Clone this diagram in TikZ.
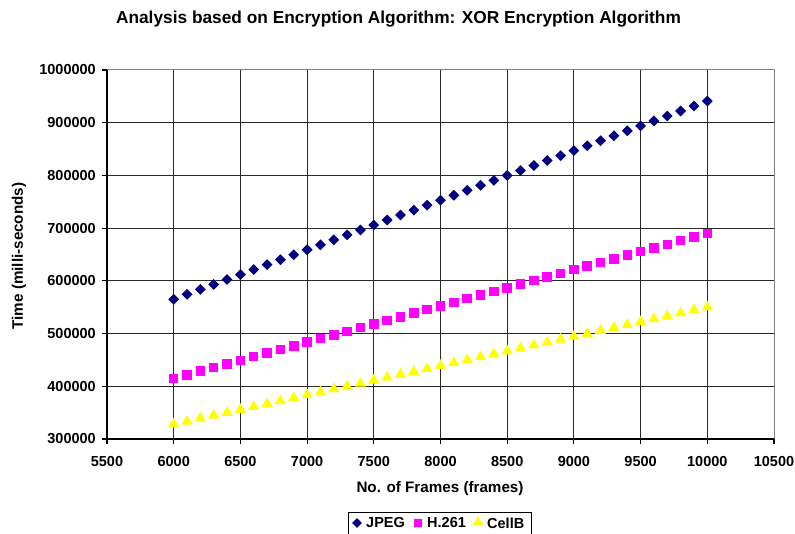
\documentclass[tikz,border=0pt]{standalone}
\usepackage{fontspec}
\setmainfont{Liberation Sans}
\usetikzlibrary{shapes.geometric}
\definecolor{jpegc}{RGB}{0,0,128}
\definecolor{hcol}{RGB}{255,0,255}
\definecolor{cellc}{RGB}{255,255,0}
\definecolor{gridc}{RGB}{40,40,40}
\tikzset{
  lbl/.style={font=\bfseries\fontsize{14.5}{16}\selectfont, inner sep=0pt},
  ttl/.style={font=\bfseries\fontsize{15.2}{17}\selectfont, inner sep=0pt},
  gridline/.style={draw=gridc, line width=1pt},
  axisline/.style={draw=black, line width=1.1pt},
  jmark/.style={diamond, fill=jpegc, inner sep=0pt, minimum size=11pt},
  hmark/.style={rectangle, fill=hcol, inner sep=0pt, minimum size=9.5pt},
  cmark/.style={regular polygon, regular polygon sides=3, fill=cellc, inner sep=0pt, minimum size=13pt},
}
\begin{document}
\begin{tikzpicture}[x=1pt,y=-1pt]
\useasboundingbox (0,0) rectangle (795,534);
% title
\node[font=\bfseries\fontsize{17.3}{19}\selectfont, inner sep=0pt] (title) at (398.5,19) {Analysis based on Encryption Algorithm: XOR Encryption Algorithm};
% grid
\foreach \k in {0,...,7} {
  \pgfmathsetmacro{\yy}{70+52.714*\k}
  \draw[gridline] (107,\yy) -- (774,\yy);
  \draw[axisline] (102,\yy) -- (107,\yy);
}
\foreach \k in {0,...,10} {
  \pgfmathsetmacro{\xx}{107+66.7*\k}
  \draw[gridline] (\xx,70) -- (\xx,439);
  \draw[axisline] (\xx,439) -- (\xx,444);
}
\draw[draw=gray, line width=1pt] (107,70) -- (774,70) -- (774,439);
\draw[axisline] (107,70) -- (107,439) -- (774,439);
% y tick labels
\foreach \v [count=\k from 0] in {1000000,900000,800000,700000,600000,500000,400000,300000} {
  \node[lbl, anchor=east] (yl\k) at (96,70+52.714*\k) {\v};
}
% x tick labels
\foreach \v [count=\k from 0] in {5500,6000,6500,7000,7500,8000,8500,9000,9500,10000,10500} {
  \node[lbl] (xl\k) at (107+66.7*\k,462) {\v};
}
% axis titles
\node[ttl, rotate=90] (ytitle) at (19,256) {Time (milli-seconds)};
\node[ttl] (xtitle) at (440,489) {No. of Frames (frames)};
% data
\foreach \i in {0,...,40} {
  \pgfmathsetmacro{\xx}{173.7+13.34*\i}
  \pgfmathsetmacro{\yj}{439-0.52714*(565+9.4*\i-300)}
  \pgfmathsetmacro{\yh}{439-0.52714*(415+6.875*\i-300)}
  \pgfmathsetmacro{\yc}{439-0.52714*(328+5.55*\i-300)}
  \node[jmark] (j\i) at (\xx,\yj) {};
  \node[hmark] (h\i) at (\xx,\yh) {};
  \node[cmark] (c\i) at (\xx,\yc) {};
}
% legend
\draw[black, line width=1pt] (348,512) rectangle (531,545);
\node[jmark, minimum size=10pt] (lj) at (357,523) {};
\node[lbl, anchor=west] (ljt) at (366,523) {JPEG};
\node[hmark, minimum size=8.5pt] (lh) at (418,523) {};
\node[lbl, anchor=west] (lht) at (427,523) {H.261};
\node[cmark, minimum size=12pt] (lc) at (478,522) {};
\node[lbl, anchor=west] (lct) at (487,523) {CellB};
\end{tikzpicture}
\end{document}
